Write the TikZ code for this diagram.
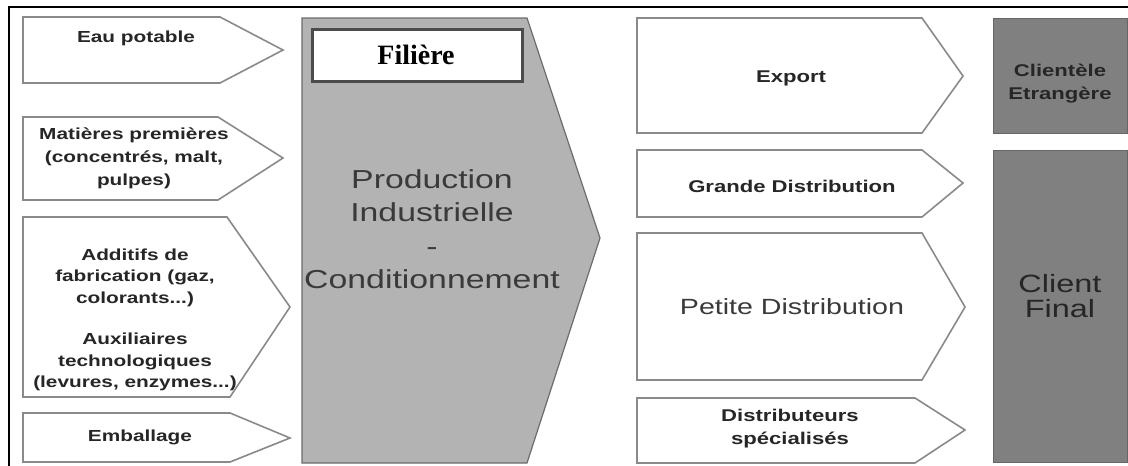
\documentclass[tikz,border=0pt]{standalone}
\usepackage{fontspec}
\setmainfont{Liberation Sans}
\newfontfamily\wide[FakeStretch=1.3]{Liberation Sans}
\newfontfamily\serifb{Liberation Serif}
\definecolor{midgray}{HTML}{B3B3B3}
\definecolor{darkbox}{HTML}{808080}
\definecolor{edgegray}{HTML}{8A8A8A}
\definecolor{txt}{HTML}{262626}
\definecolor{bigcol}{HTML}{3A3A3A}
\begin{document}
\begin{tikzpicture}[x=1pt,y=-1pt,
  inarrow/.style={draw=edgegray,line width=1.6pt,fill=white,line join=miter},
  mainarrow/.style={draw=gray!85!black,line width=1.2pt,fill=midgray},
  darkrect/.style={draw=gray!80!black,line width=1pt,fill=darkbox},
  smalltxt/.style={align=center,text=txt,font=\wide\bfseries\fontsize{16}{22}\selectfont,inner sep=0pt},
  righttxt/.style={align=center,text=txt,font=\wide\bfseries\fontsize{17}{23}\selectfont,inner sep=0pt},
  bigtxt/.style={align=center,text=bigcol,inner sep=0pt}]
\useasboundingbox (0,0) rectangle (1128,466);
\fill[white] (0,0) rectangle (1128,466);
% outer frame
\draw[line width=2pt,black] (9,470) -- (9,7) -- (1132,7);
% left inputs
\draw[inarrow] (23,17) -- (220,17) -- (283,50) -- (220,83) -- (23,83) -- cycle;
\node[smalltxt] (eau) at (136,38) {Eau potable};
\draw[inarrow] (23,117) -- (218,117) -- (283,158) -- (218,200) -- (23,200) -- cycle;
\node[smalltxt,font=\wide\bfseries\fontsize{16}{23}\selectfont] (mat) at (134,158) {Matières premières\\(concentrés, malt,\\pulpes)};
\draw[inarrow] (23,217) -- (227,217) -- (290,307) -- (230,397) -- (23,397) -- cycle;
\node[smalltxt,font=\wide\bfseries\fontsize{16}{21.5}\selectfont] (add) at (135,320) {Additifs de\\fabrication (gaz,\\colorants...)\\[20pt]Auxiliaires\\technologiques\\(levures, enzymes...)};
\draw[inarrow] (23,413) -- (230,413) -- (290,438) -- (230,462) -- (23,462) -- cycle;
\node[smalltxt] (emb) at (140,437) {Emballage};
% central arrow
\draw[mainarrow] (302,18) -- (527,18) -- (600,238) -- (527,463) -- (302,463) -- cycle;
\draw[draw=black!70,line width=3pt,fill=white] (312,29) rectangle (522,81);
\node[inner sep=0pt,font=\serifb\bfseries\fontsize{28}{30}\selectfont] (fil) at (416,55) {Filière};
\node[bigtxt,font=\wide\fontsize{26}{33.5}\selectfont] (prod) at (432,229) {Production\\Industrielle\\-\\Conditionnement};
% right outputs
\draw[inarrow] (637,18) -- (922,18) -- (963,76) -- (922,133) -- (637,133) -- cycle;
\node[righttxt] (exp) at (791,78) {Export};
\draw[inarrow] (637,150) -- (922,150) -- (963,183) -- (922,217) -- (637,217) -- cycle;
\node[righttxt] (gd) at (792,186) {Grande Distribution};
\draw[inarrow] (637,233) -- (922,233) -- (965,307) -- (922,380) -- (637,380) -- cycle;
\node[bigtxt,font=\wide\fontsize{22}{26}\selectfont] (pd) at (792,307) {Petite Distribution};
\draw[inarrow] (637,398) -- (915,398) -- (965,430) -- (915,463) -- (637,463) -- cycle;
\node[righttxt] (ds) at (790,429) {Distributeurs\\spécialisés};
% clients
\draw[darkrect] (993,18) rectangle (1127,133);
\node[righttxt] (ce) at (1060,84) {Clientèle\\Etrangère};
\draw[darkrect] (993,150) rectangle (1127,462);
\node[bigtxt,text=txt,font=\wide\fontsize{25}{25.5}\selectfont] (cf) at (1060,296) {Client\\Final};
\end{tikzpicture}
\end{document}
